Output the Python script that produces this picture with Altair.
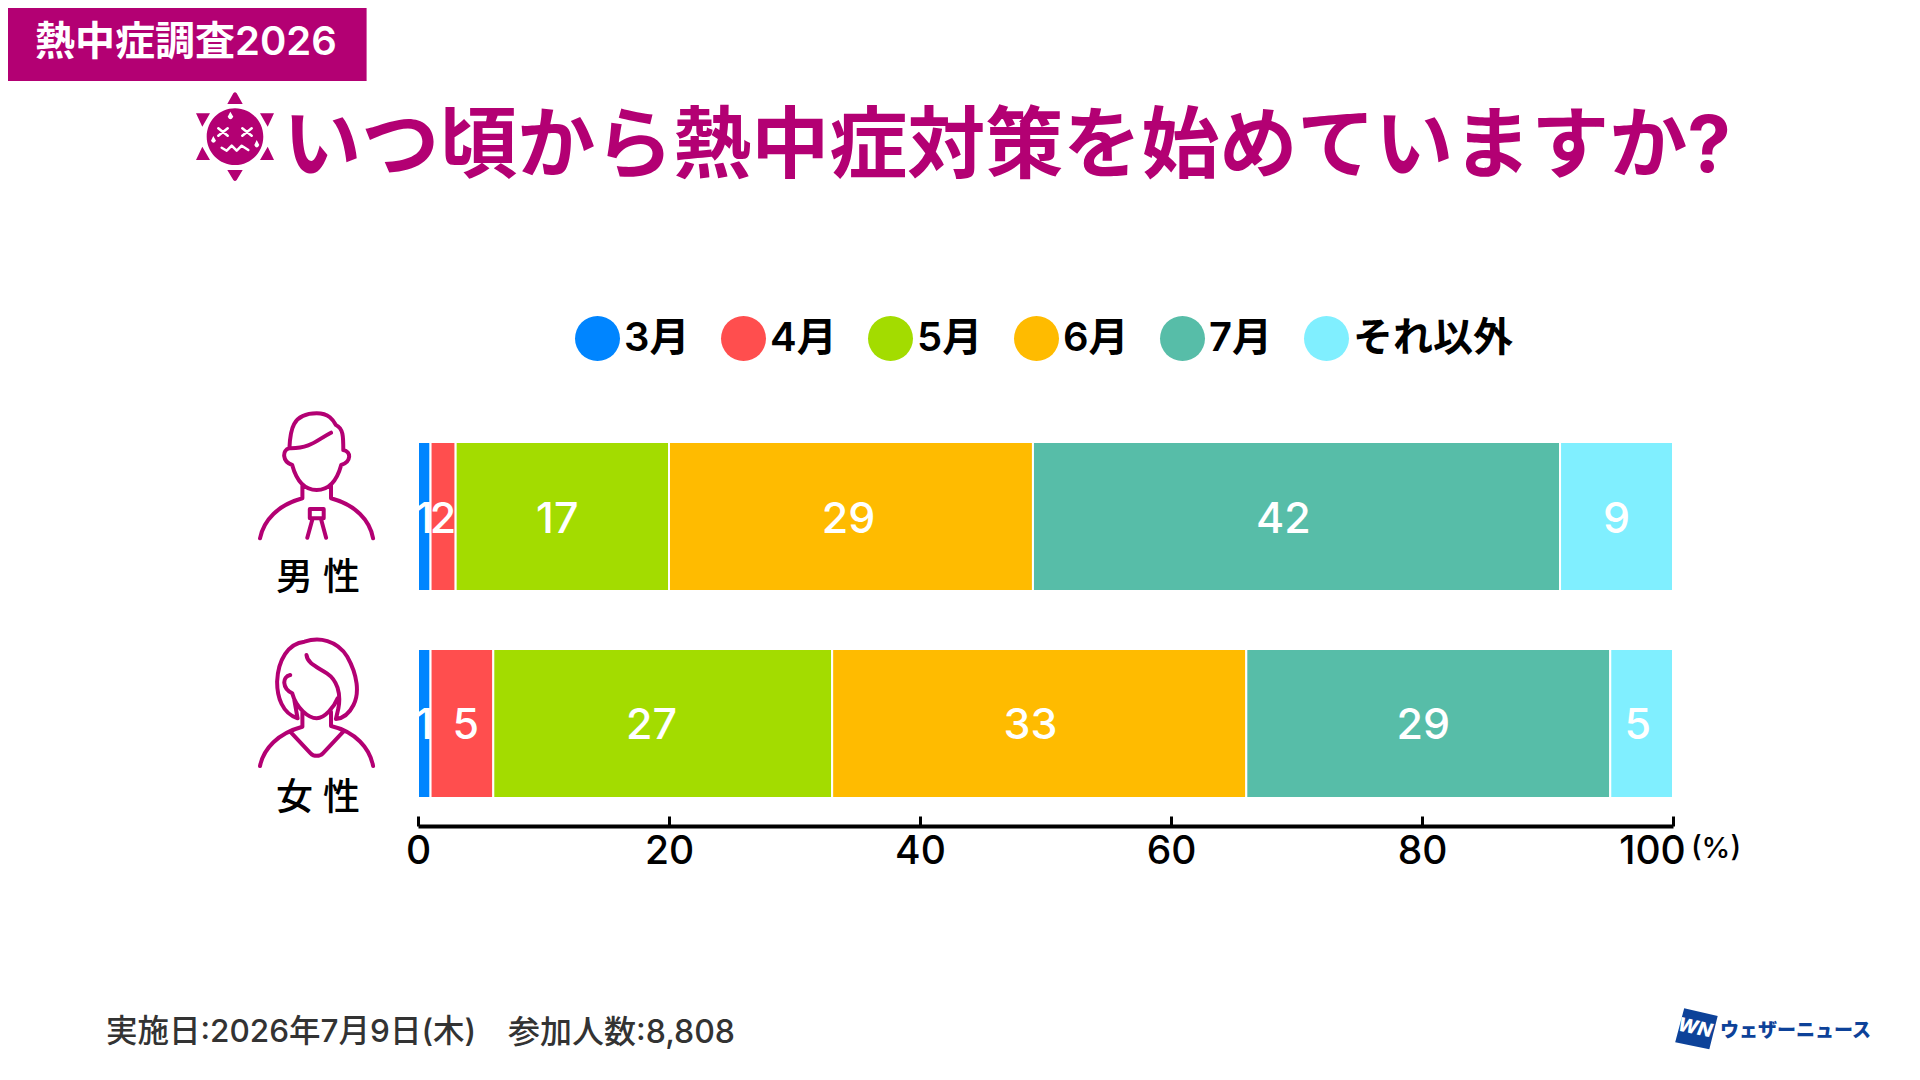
import re
import altair as alt
import pandas as pd

categories = ["男性", "女性"]
series = ["3月", "4月", "5月", "6月", "7月", "それ以外"]
male_values = [1, 2, 17, 29, 42, 9]
female_values = [1, 5, 27, 33, 29, 5]
colors = ["#0085ff", "#ff4e4e", "#a3dc00", "#ffbb00", "#57bda8", "#80efff"]
tick_values = [0, 20, 40, 60, 80, 100]

FONT = "Inter, 'Noto Sans CJK JP', sans-serif"
MAGENTA = "#b30073"

rows = []
for cat, vals in zip(categories, [male_values, female_values]):
    for i, (s, v) in enumerate(zip(series, vals)):
        rows.append({"cat": cat, "series": s, "idx": i, "value": v})
df = pd.DataFrame(rows)

x_scale = alt.Scale(domain=[0, 100], range=[410, 1665], nice=False, zero=False)
y_scale = alt.Scale(domain=categories, range=[434, 790], paddingInner=0.28, paddingOuter=0)

base = alt.Chart(df).transform_stack(
    stack="value", as_=["start", "end"], groupby=["cat"], sort=[alt.SortField("idx")]
).transform_calculate(mid="(datum.start + datum.end) / 2")

bars = base.mark_bar(stroke="white", strokeWidth=2).encode(
    x=alt.X(
        "start:Q",
        scale=x_scale,
        title=None,
        axis=alt.Axis(
            orient="top", offset=-818, values=tick_values, grid=False, format="d",
            domainColor="black", domainWidth=4, tickColor="black", tickWidth=3, tickSize=10,
            labelFont=FONT, labelFontSize=39, labelFontWeight=500, labelColor="black",
            labelBaseline="middle", labelPadding=-35, labelAngle=0,
            labelFlush=False, labelOverlap=False,
            labelOffset={"condition": {"test": "datum.value == 100", "value": -21}, "value": 0},
        ),
    ),
    x2="end:Q",
    y=alt.Y("cat:N", scale=y_scale, axis=None),
    color=alt.Color(
        "series:N",
        sort=series,
        scale=alt.Scale(domain=series, range=colors),
        legend=alt.Legend(
            orient="none", legendX=567, legendY=308, direction="horizontal", columns=6,
            gridAlign="none", title=None, padding=0, symbolType="circle", symbolSize=2025,
            symbolStrokeWidth=0, symbolOpacity=1, labelFont=FONT, labelFontSize=40,
            labelFontWeight=600, labelColor="black", labelOffset=4, columnPadding=31,
            labelLimit=300,
        ),
    ),
)

# Hand nudges the reference applies to its value labels, in axis units.
LABEL_NUDGE = (
    "{'男性3月':0,'男性4月':0,'男性5月':-0.4,'男性6月':-0.2,'男性7月':-1.05,'男性それ以外':0,"
    "'女性3月':0,'女性4月':0.3,'女性5月':-0.9,'女性6月':-0.7,'女性7月':-0.4,'女性それ以外':-0.3}"
)

bar_labels = base.transform_calculate(
    label_x=f"datum.mid + {LABEL_NUDGE}[datum.cat + datum.series]"
).mark_text(
    color="white", font=FONT, fontSize=43, fontWeight=500, align="center", baseline="middle", dy=3
).encode(
    x=alt.X("label_x:Q", scale=x_scale),
    y=alt.Y("cat:N", scale=y_scale, axis=None),
    text=alt.Text("value:Q"),
)

one = pd.DataFrame({"a": [0]})


def path(d, ox, oy, sx, sy):
    """Re-express a path traced on a zoomed crop in chart pixels (page margin removed)."""
    def conv(m):
        return f"{ox + float(m.group(1)) / sx - 8:.1f},{oy + float(m.group(2)) / sy - 8:.1f}"
    return re.sub(r"(-?[\d.]+),(-?[\d.]+)", conv, d)


def shape(d, stroke=None, fill=None, width=4):
    kw = dict(shape=d, size=4, opacity=1, strokeCap="round", strokeJoin="round")
    if fill:
        kw.update(filled=True, fill=fill, strokeWidth=0)
    else:
        kw.update(filled=False, stroke=stroke, strokeWidth=width)
    return alt.Chart(one).mark_point(**kw).encode(x=alt.value(0), y=alt.value(0))


def label(text, x, y, size, color="black", weight=500, align="center", angle=None, style=None):
    kw = dict(text=text, font=FONT, fontSize=size, fontWeight=weight, color=color,
              align=align, baseline="middle")
    if angle is not None:
        kw["angle"] = angle
    if style:
        kw["fontStyle"] = style
    return alt.Chart(one).mark_text(**kw).encode(x=alt.value(x - 8), y=alt.value(y - 8))


MAN = (
    "M268,505 C270,450 275,400 335,400 C365,400 375,420 382,435 C400,445 400,470 400,510 "
    "M272,505 C320,505 335,480 370,458 "
    "M268,505 C250,510 250,545 275,555 M400,510 C420,515 420,545 395,555 "
    "M275,555 C285,600 305,630 335,630 C365,630 385,600 395,555 "
    "M300,615 L300,655 C240,675 205,720 196,775 M370,615 L370,655 C430,675 465,720 473,775 "
    "M318,715 L318,687 L352,687 L352,715 L318,715 M325,715 L312,773 M345,715 L358,773"
)
WOMAN = (
    "M288,295 C250,280 238,230 238,185 C240,120 265,70 305,65 C340,50 385,60 410,110 "
    "C435,165 440,220 425,255 C415,280 400,295 382,297 L388,265 C395,220 385,180 360,160 "
    "C335,140 312,130 310,105 "
    "M270,165 C250,170 250,205 275,220 M275,220 C285,265 315,295 335,295 C355,295 378,260 386,235 "
    "M280,240 L288,295 M300,275 L300,320 C240,340 205,385 196,438 "
    "M370,275 L370,318 C430,335 465,385 473,438 "
    "M270,335 L320,400 C328,410 342,410 350,400 L400,335"
)
SUN_FILL = (
    "M682,312 L700,280 Q705,273 710,280 L728,312 Z M682,510 L728,510 L710,540 Q705,546 700,540 Z "
    "M588,340 L630,340 L607,380 Z M822,340 L780,340 L803,380 Z "
    "M588,480 L607,440 L630,480 Z M822,480 L803,440 L780,480 Z "
    "M620,410 C620,363 658,325 705,325 C752,325 790,363 790,410 "
    "C790,457 752,495 705,495 C658,495 620,457 620,410 Z"
)
SUN_FACE = (
    "M655,385 L683,407 M683,385 L655,407 M727,385 L755,407 M755,385 L727,407 "
    "M665,443 L680,452 L695,437 L710,452 L725,437 L745,450"
)
SUN_DROPS = (
    "M691,335 L683,350 Q691,365 700,350 Z M640,408 L633,422 Q640,435 648,422 Z "
    "M770,420 L763,435 Q770,450 778,435 Z"
)
LOGO = "M550,685 L650,708 L625,808 L523,787 Z"

band = alt.Chart(one).mark_rect(color=MAGENTA).encode(
    x=alt.value(-8), x2=alt.value(358.6), y=alt.value(-8), y2=alt.value(73)
)

chart = alt.layer(
    band,
    label("熱中症調査2026", 35, 43, 40, color="white", weight=600, align="left"),
    shape(path(SUN_FILL, 0, 0, 3, 3), fill=MAGENTA),
    shape(path(SUN_FACE, 0, 0, 3, 3), stroke="white", width=2.5),
    shape(path(SUN_DROPS, 0, 0, 3, 3), fill="white"),
    label("いつ頃から熱中症対策を始めていますか?", 1007, 149, 78, color=MAGENTA, weight=700),
    bars,
    bar_labels,
    shape(path(MAN, 180, 280, 2.45, 3), stroke=MAGENTA),
    shape(path(WOMAN, 180, 620, 2.45, 3), stroke=MAGENTA),
    label("男 性", 318, 579, 37),
    label("女 性", 318, 799, 37),
    label("(%)", 1716, 849, 29),
    label("実施日:2026年7月9日(木)", 106, 1033, 31.5, color="#333333", align="left"),
    label("参加人数:8,808", 508, 1033, 32, color="#333333", align="left"),
    shape(path(LOGO, 1500, 780, 2.986, 3), fill="#0d4299"),
    label("WN", 1695, 1028, 19, color="white", weight=800, angle=12, style="italic"),
    label("ウェザーニュース", 1720, 1031, 19, color="#0d4299", weight=800, align="left"),
).properties(
    width=1904, height=1064, padding=0, autosize=alt.AutoSizeParams(type="none"), background="white"
).configure_view(stroke=None)

chart.save("out.html", embed_options={"renderer": "svg", "actions": False})
